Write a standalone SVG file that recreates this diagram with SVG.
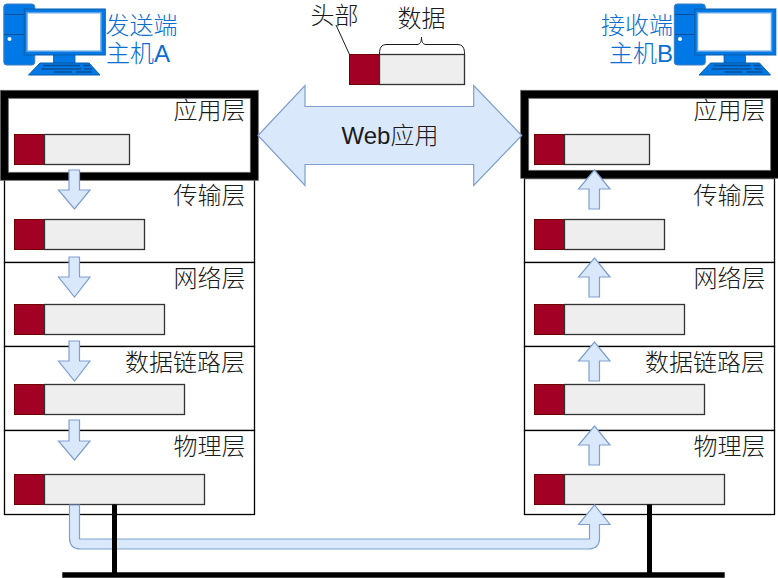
<svg xmlns="http://www.w3.org/2000/svg" xmlns:xlink="http://www.w3.org/1999/xlink" width="778" height="578" viewBox="0 0 778 578">
<style>
text{font-family:"Liberation Sans","Noto Sans CJK SC",sans-serif;font-size:24px;font-weight:300;fill:#1a1a1a}
.host{fill:#0a6fd0;text-anchor:middle}
.lbl{text-anchor:end}
.row{fill:#fff;stroke:#000;stroke-width:1.3}
.hd{fill:#a20025;stroke:#6f0000;stroke-width:1}
.dat{fill:#eeeeee;stroke:#333;stroke-width:1.3}
.arr{fill:#dae8fc;stroke:#7f9fcf;stroke-width:1.2;stroke-linejoin:miter}
.bus{stroke:#000;fill:none}
.ln{stroke:#1a1a1a;fill:none;stroke-width:1}
</style>
<defs>
<g id="pc">
<rect x="3.800" y="4" width="31" height="61" rx="3" fill="#0078e6" stroke="#3f7fc4" stroke-width="1"/>
<path d="M4.500 14.500H25M4.500 34.500H25" stroke="#0a4f96" stroke-width="1.200" fill="none"/>
<circle cx="9.500" cy="39" r="2" fill="#fff"/>
<rect x="24.300" y="9" width="81" height="46" fill="#0078e6" stroke="#0a5fa8" stroke-width="1"/>
<rect x="27" y="12.700" width="74" height="38.500" fill="#fff" stroke="#5ea2e6" stroke-width="1.500"/>
<rect x="53.500" y="55" width="21.500" height="8" fill="#0078e6" stroke="#0a5fa8" stroke-width=".8"/>
<path d="M40 63H89L100 75H28.500Z" fill="#0078e6" stroke="#0a5fa8" stroke-width="1"/>
<path d="M43 65.500H80M83 65.500H90M41 69H81M84 69H92M54 72H72M76 72H92" stroke="#0a4f96" stroke-width="1.500" fill="none"/>
</g>
</defs>

<g id="layers-left">
<g id="left-transport"><rect class="row" x="4.500" y="178.500" width="250" height="84"/></g>
<g id="left-network"><rect class="row" x="4.500" y="262.500" width="250" height="84"/></g>
<g id="left-datalink"><rect class="row" x="4.500" y="346.500" width="250" height="84"/></g>
<g id="left-physical"><rect class="row" x="4.500" y="430.500" width="250" height="84"/></g>
</g>
<g id="layers-right">
<g id="right-transport"><rect class="row" x="524.500" y="178.500" width="250" height="84"/></g>
<g id="right-network"><rect class="row" x="524.500" y="262.500" width="250" height="84"/></g>
<g id="right-datalink"><rect class="row" x="524.500" y="346.500" width="250" height="84"/></g>
<g id="right-physical"><rect class="row" x="524.500" y="430.500" width="250" height="84"/></g>
</g>

<g id="left-app">
<rect x="4.300" y="94.300" width="250" height="82" fill="#fff" stroke="#000" stroke-width="8"/>
<rect x="0.300" y="90.300" width="258" height="90" fill="none" stroke="#666" stroke-width=".8"/>
<rect x="8.300" y="98.300" width="242" height="74" fill="none" stroke="#666" stroke-width=".8"/>
<text class="lbl" x="245.500" y="119">应用层</text>
<rect class="hd" x="14.500" y="134.500" width="30" height="30"/><rect class="dat" x="44.500" y="134.500" width="85" height="30"/>
</g>
<g id="right-app">
<rect x="524.700" y="94.300" width="250" height="80" fill="#fff" stroke="#000" stroke-width="8"/>
<rect x="520.700" y="90.300" width="258" height="88" fill="none" stroke="#666" stroke-width=".8"/>
<rect x="528.700" y="98.300" width="242" height="72" fill="none" stroke="#666" stroke-width=".8"/>
<text class="lbl" x="765.500" y="119">应用层</text>
<rect class="hd" x="534.500" y="134.500" width="30" height="30"/><rect class="dat" x="564.500" y="134.500" width="85" height="30"/>
</g>

<g id="left-packets">
<text class="lbl" x="245.500" y="204">传输层</text>
<rect class="hd" x="14.500" y="219.500" width="30" height="30"/><rect class="dat" x="44.500" y="219.500" width="100" height="30"/>
<text class="lbl" x="245.500" y="287">网络层</text>
<rect class="hd" x="14.500" y="304.500" width="30" height="30"/><rect class="dat" x="44.500" y="304.500" width="120" height="30"/>
<text class="lbl" x="245" y="371">数据链路层</text>
<rect class="hd" x="14.500" y="384.500" width="30" height="30"/><rect class="dat" x="44.500" y="384.500" width="140" height="30"/>
<text class="lbl" x="245.500" y="455">物理层</text>
<rect class="hd" x="14.500" y="474.500" width="30" height="30"/><rect class="dat" x="44.500" y="474.500" width="160" height="30"/>
</g>
<g id="right-packets">
<text class="lbl" x="765.500" y="204">传输层</text>
<rect class="hd" x="534.500" y="219.500" width="30" height="30"/><rect class="dat" x="564.500" y="219.500" width="100" height="30"/>
<text class="lbl" x="765.500" y="287">网络层</text>
<rect class="hd" x="534.500" y="304.500" width="30" height="30"/><rect class="dat" x="564.500" y="304.500" width="120" height="30"/>
<text class="lbl" x="765" y="371">数据链路层</text>
<rect class="hd" x="534.500" y="384.500" width="30" height="30"/><rect class="dat" x="564.500" y="384.500" width="140" height="30"/>
<text class="lbl" x="765.500" y="455">物理层</text>
<rect class="hd" x="534.500" y="474.500" width="30" height="30"/><rect class="dat" x="564.500" y="474.500" width="160" height="30"/>
</g>

<g id="connectors">
<path class="arr" d="M69.500 505V538Q69.500 549 80.500 549H588Q599.500 549 599.500 538V524.500H610L594.500 505L578.500 524.500H589.500V539H79.500V505Z"/>
<path class="bus" stroke-width="5" d="M114.500 504.500V575M649.500 504.500V575"/>
<path class="bus" stroke-width="5.500" d="M62.300 575H724.700"/>
<path id="d1" class="arr" d="M69 170H79.500V190H90L74.500 209L58.500 190H69Z"/>
<path id="d2" class="arr" d="M69 257H79.500V277H90L74.500 297L58.500 277H69Z"/>
<path id="d3" class="arr" d="M69 341H79.500V361H90L74.500 381L58.500 361H69Z"/>
<path id="d4" class="arr" d="M69 420H79.500V441H90L74.500 460L58.500 441H69Z"/>
<path id="u1" class="arr" d="M589 209H599.500V189H610L594.500 170L578.500 189H589Z"/>
<path id="u2" class="arr" d="M589 297H599.500V277H610L594.500 258L578.500 277H589Z"/>
<path id="u3" class="arr" d="M589 381H599.500V361H610L594.500 342L578.500 361H589Z"/>
<path id="u4" class="arr" d="M589 465H599.500V445H610L594.500 426L578.500 445H589Z"/>
</g>

<g id="web-app">
<path class="arr" d="M258 135.500L305 85.500V106.500H473.700V85.500L521.700 135.500L473.700 185.500V164.500H305V185.500Z"/>
<text x="390" y="144" text-anchor="middle">Web应用</text>
</g>

<g id="legend">
<rect class="hd" x="349.500" y="54.500" width="30" height="30"/><rect class="dat" x="379.500" y="54.500" width="85" height="30"/>
<text x="334.500" y="24" text-anchor="middle">头部</text>
<text x="421.500" y="27" text-anchor="middle">数据</text>
<path class="ln" d="M336 25L349.500 54.500"/>
<path class="ln" stroke-width="1.200" d="M379.500 54C379.500 48 381 44.500 387 44.500H417C420 44.500 421.500 42 421.500 37C421.500 42 423 44.500 426 44.500H457C463 44.500 464.500 48 464.500 54"/>
</g>

<g id="host-a">
<use xlink:href="#pc" href="#pc"/>
<text class="host" x="141.500" y="34">发送端</text>
<text class="host" x="138" y="62">主机A</text>
</g>
<g id="host-b">
<use xlink:href="#pc" href="#pc" x="670.500"/>
<text class="host" x="637" y="34">接收端</text>
<text class="host" x="641" y="62">主机B</text>
</g>
</svg>
